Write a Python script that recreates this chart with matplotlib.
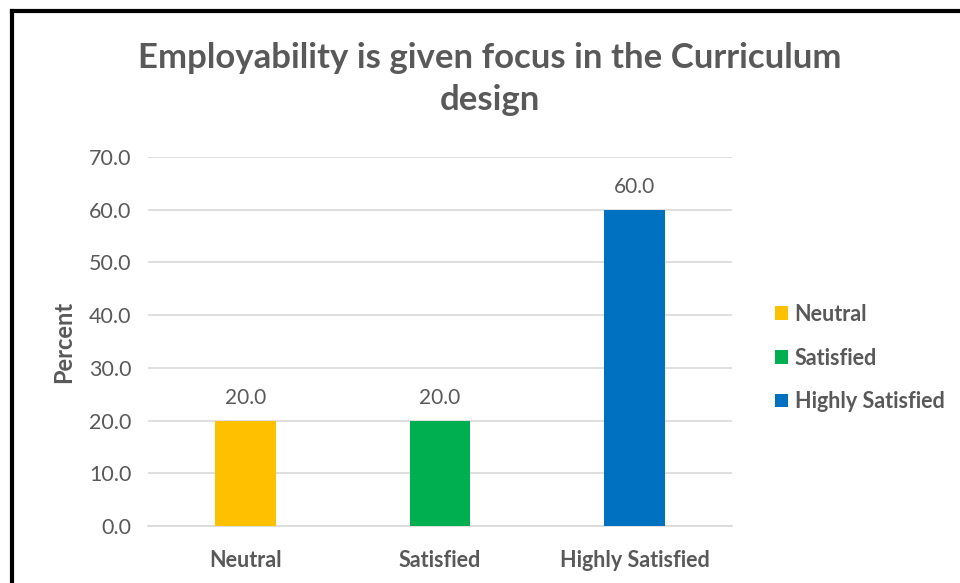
import matplotlib.pyplot as plt
from matplotlib.lines import Line2D

plt.rcParams['font.family'] = ['Lato', 'DejaVu Sans']

categories = ['Neutral', 'Satisfied', 'Highly Satisfied']
percent = [20.0, 20.0, 60.0]
colors = ['#FFC000', '#00B050', '#0070C0']
grey = '#595959'

fig = plt.figure(figsize=(9.6, 5.83), dpi=100)
ax = fig.add_axes([148/960, 1-526/583, 584/960, 369/583])

x = range(len(categories))
bars = ax.bar(x, percent, width=0.31, color=colors, zorder=3, label=categories)
for xi, v in zip(x, percent):
    ax.annotate('%.1f' % v, (xi, v), xytext=(0, 9), textcoords='offset points',
                ha='center', va='bottom', fontsize=15, color=grey)

ax.set_xlim(-0.5, 2.5)
ax.set_ylim(0, 70)
ax.set_yticks(range(0, 71, 10))
ax.set_yticklabels(['%.1f' % t for t in range(0, 71, 10)])
ax.set_xticks(list(x))
ax.set_xticklabels(categories, fontweight='bold')
ax.tick_params(axis='both', length=0, colors=grey, labelsize=15.5)
ax.tick_params(axis='y', pad=12)
ax.tick_params(axis='x', pad=17)
ax.grid(axis='y', color='#D9D9D9', linewidth=1.2, zorder=0)
for s in ['top', 'right', 'left']:
    ax.spines[s].set_visible(False)
ax.spines['bottom'].set_color('#D9D9D9')
ax.spines['bottom'].set_linewidth(1.2)
ax.set_ylabel('Percent', fontsize=17, fontweight='bold', color=grey, labelpad=10)

fig.text(490/960, 1-79/583, 'Employability is given focus in the Curriculum\ndesign',
         ha='center', va='center', fontsize=25, fontweight='bold', color=grey,
         linespacing=1.35)

leg = fig.legend(bars, categories, loc='center left', bbox_to_anchor=(756/960, 1-358/583),
                 frameon=False, fontsize=15.5, handlelength=0.6, handleheight=0.6,
                 handletextpad=0.3, labelspacing=1.05)
for t in leg.get_texts():
    t.set_color(grey)
    t.set_fontweight('bold')

# black frame on left and top edges
fig.add_artist(Line2D([12/960, 12/960], [0, 1-11/583], transform=fig.transFigure, color='black', linewidth=3))
fig.add_artist(Line2D([12/960, 1], [1-11/583, 1-11/583], transform=fig.transFigure, color='black', linewidth=3))

fig.savefig('out.png', dpi=100)
